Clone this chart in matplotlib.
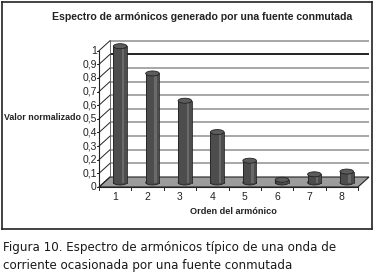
import numpy as np
import matplotlib.pyplot as plt
from matplotlib.patches import Rectangle, Ellipse, Polygon

# data
orders = [1, 2, 3, 4, 5, 6, 7, 8]
values = [1.0, 0.8, 0.6, 0.37, 0.16, 0.02, 0.06, 0.08]
yticks = [0, 0.1, 0.2, 0.3, 0.4, 0.5, 0.6, 0.7, 0.8, 0.9, 1]
ytick_labels = ['0', '0,1', '0,2', '0,3', '0,4', '0,5', '0,6', '0,7', '0,8', '0,9', '1']

W, H = 379, 275
fig = plt.figure(figsize=(W / 100, H / 100), dpi=100)
fig.patch.set_facecolor('white')

# outer frame of the chart
frame = fig.add_axes([2 / W, 1 - 229 / H, 370 / W, 227 / H])
frame.set_xticks([])
frame.set_yticks([])
for s in frame.spines.values():
    s.set_linewidth(1.2)
    s.set_color('#222222')

# main axes = front plane of the fake 3d box
x0, x1 = 99, 358
y0, y1 = 187, 50.7
ax = fig.add_axes([x0 / W, 1 - y0 / H, (x1 - x0) / W, (y0 - y1) / H])
ax.set_xlim(0.5, 8.5)
ax.set_ylim(0, 1)
ax.axis('off')

# depth offset (in data units)
dx = 11 / ((x1 - x0) / 8)
dy = 10 / (y0 - y1)

# floor
ax.add_patch(Polygon([(0.5, 0), (8.5, 0), (8.5 + dx, dy), (0.5 + dx, dy)],
                     closed=True, facecolor='#9c9c9c', edgecolor='#222222',
                     lw=0.8, clip_on=False, zorder=1))

# back wall gridlines and side diagonals
for i, v in enumerate(yticks):
    col = '#111111' if i == 9 else '#a0a0a0'
    if i > 0:
        ax.plot([0.5 + dx, 8.5 + dx], [v + dy, v + dy], color=col, lw=1.3,
                clip_on=False, zorder=1.5, solid_capstyle='butt')
    ax.plot([0.5, 0.5 + dx], [v, v + dy], color='#222222', lw=0.7,
            clip_on=False, zorder=1.6)
ax.plot([0.5 + dx, 0.5 + dx], [dy, 1 + dy], color='#555555', lw=0.6,
        clip_on=False, zorder=1.6)

# front axes lines
ax.plot([0.5, 0.5], [0, 1], color='#222222', lw=0.8, clip_on=False, zorder=2)
ax.plot([0.5, 8.5], [0, 0], color='#222222', lw=0.8, clip_on=False, zorder=2)
for v, lab in zip(yticks, ytick_labels):
    ax.plot([0.5 - 0.06, 0.5], [v, v], color='#222222', lw=0.7, clip_on=False)
    ax.text(0.5 - 0.07, v, lab, ha='right', va='center', fontsize=7.5,
            family='Liberation Sans', color='#222222')
for b in np.arange(0.5, 9.0, 1.0):
    ax.plot([b, b], [0, -0.025], color='#222222', lw=0.7, clip_on=False)
for o in orders:
    ax.text(o, -0.075, str(o), ha='center', va='center', fontsize=7.5,
            family='Liberation Sans', color='#222222')

# cylinders
bw = 0.42
eh = 5 / (y0 - y1)
for o, v in zip(orders, values):
    cx = o + dx * 0.45
    base = dy * 0.45
    ax.add_patch(Ellipse((cx, base), bw, eh, facecolor='#4a4a4a',
                         edgecolor='#222222', lw=0.6, zorder=3, clip_on=False))
    ax.add_patch(Rectangle((cx - bw / 2, base), bw, v, facecolor='#4d4d4d',
                           edgecolor='none', zorder=3.1, clip_on=False))
    # highlight strip
    ax.add_patch(Rectangle((cx + bw * 0.12, base), bw * 0.18, v,
                           facecolor='#6a6a6a', edgecolor='none', zorder=3.2,
                           clip_on=False))
    ax.plot([cx - bw / 2, cx - bw / 2], [base, base + v], color='#222222',
            lw=0.6, zorder=3.3, clip_on=False)
    ax.plot([cx + bw / 2, cx + bw / 2], [base, base + v], color='#222222',
            lw=0.6, zorder=3.3, clip_on=False)
    ax.add_patch(Ellipse((cx, base + v), bw, eh, facecolor='#5c5c5c',
                         edgecolor='#222222', lw=0.6, zorder=3.4, clip_on=False))

# titles
fig.text(202 / W, 1 - 17 / H, 'Espectro de armónicos generado por una fuente conmutada',
         ha='center', va='center', fontsize=7.6, fontweight='bold',
         family='Liberation Sans', color='#222222')
fig.text(4 / W, 1 - 118 / H, 'Valor normalizado', ha='left', va='center',
         fontsize=6.4, fontweight='bold', family='Liberation Sans', color='#222222')
fig.text(233 / W, 1 - 212 / H, 'Orden del armónico', ha='center', va='center',
         fontsize=6.6, fontweight='bold', family='Liberation Sans', color='#222222')

# caption
fig.text(3 / W, 1 - 248 / H, 'Figura 10. Espectro de armónicos típico de una onda de',
         ha='left', va='center', fontsize=8.6, family='DejaVu Sans', color='#1a1a1a')
fig.text(3 / W, 1 - 265 / H, 'corriente ocasionada por una fuente conmutada',
         ha='left', va='center', fontsize=8.6, family='DejaVu Sans', color='#1a1a1a')

fig.savefig('out.png', dpi=100, facecolor='white')
